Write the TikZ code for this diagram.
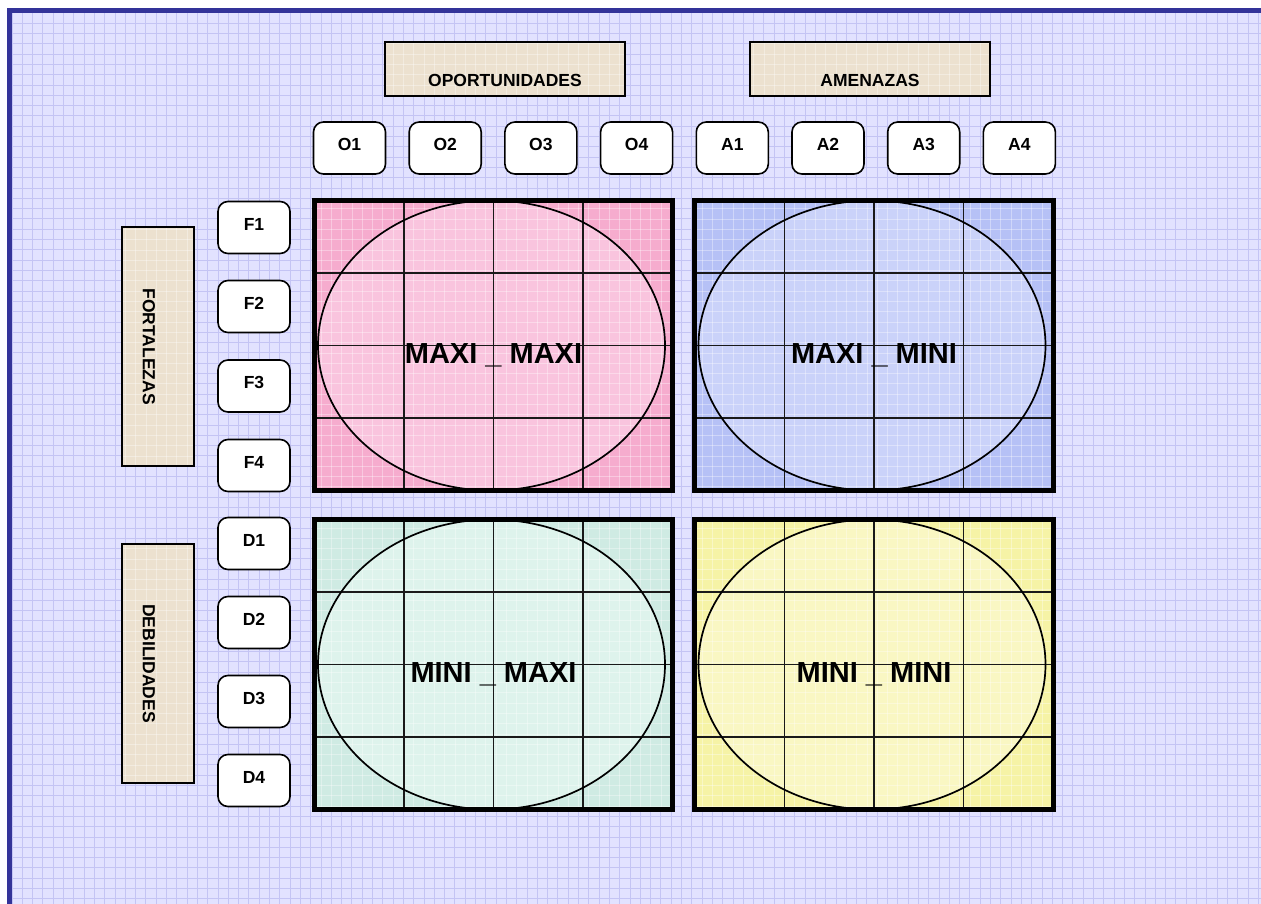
\documentclass[tikz,border=0pt]{standalone}
\usepackage{fontspec}
\usetikzlibrary{calc}
\setmainfont{Liberation Sans}
\definecolor{bgc}{HTML}{E2E2FF}
\definecolor{bggrid}{HTML}{C4C4F4}
\definecolor{bordc}{HTML}{333399}
\definecolor{beige}{HTML}{ECE1CF}
\definecolor{pinkO}{HTML}{F6ACCE}
\definecolor{pinkI}{HTML}{F9C4DE}
\definecolor{blueO}{HTML}{B6C1F6}
\definecolor{blueI}{HTML}{CAD2F9}
\definecolor{greenO}{HTML}{CFEBE3}
\definecolor{greenI}{HTML}{DEF3EC}
\definecolor{yellO}{HTML}{F6F3A6}
\definecolor{yellI}{HTML}{F9F7C3}
\tikzset{
  smallfont/.style={font=\fontsize{17.5}{20}\selectfont\bfseries},
  bigfont/.style={font=\fontsize{29}{32}\selectfont\bfseries},
  rbox/.style={draw=black, line width=1.6pt, fill=white, rounded corners=10pt,
    minimum width=72pt, minimum height=52pt, inner sep=0pt, smallfont,
    text height=13pt, text depth=8pt},
  hbox/.style={fill=beige, minimum width=240pt, minimum height=54pt, inner sep=0pt},
  vbox/.style={fill=beige, minimum width=72pt, minimum height=239pt, inner sep=0pt},
  quad/.style={minimum width=358pt, minimum height=290pt, inner sep=0pt},
  qborder/.style={draw=black, line width=5pt},
  qgrid/.style={draw=black!90, line width=1.5pt},
  ell/.style={draw=black, line width=1.7pt},
  texgrid/.style={draw=white, line width=0.8pt, opacity=0.35},
  boxedge/.style={draw=black, line width=2pt},
}
\newcommand{\texturegrid}[1]{%
  \begin{scope}
    \clip ($(#1.south west)+(1,-1)$) rectangle ($(#1.north east)+(-1,1)$);
    \foreach \gx in {12,22.3,...,1261}{\draw[texgrid] (\gx,13) -- (\gx,904);}
    \foreach \gy in {13,23.3,...,904}{\draw[texgrid] (12,\gy) -- (1261,\gy);}
  \end{scope}}
\begin{document}
\begin{tikzpicture}[x=1pt,y=-1pt]
\useasboundingbox (0,0) rectangle (1261,904);
% background
\fill[bgc] (7,8) rectangle (1261,904);
\foreach \gx in {12,22.3,...,1261}{\draw[bggrid, line width=1pt] (\gx,13) -- (\gx,904);}
\foreach \gy in {13,23.3,...,904}{\draw[bggrid, line width=1pt] (12,\gy) -- (1261,\gy);}
\fill[bordc] (7,8) rectangle (1261,13);
\fill[bordc] (7,8) rectangle (12,904);

% header boxes
\node[hbox] (opp) at (505,69) {};
\texturegrid{opp}
\draw[boxedge] (opp.south west) rectangle (opp.north east);
\node[smallfont] (oppT) at ($(opp.center)+(0,11)$) {OPORTUNIDADES};
\node[hbox] (ame) at (870,69) {};
\texturegrid{ame}
\draw[boxedge] (ame.south west) rectangle (ame.north east);
\node[smallfont] (ameT) at ($(ame.center)+(0,11)$) {AMENAZAS};

% side boxes
\node[vbox] (fort) at (158,346.5) {};
\texturegrid{fort}
\draw[boxedge] (fort.south west) rectangle (fort.north east);
\node[smallfont, rotate=-90] (fortT) at (149,346.5) {FORTALEZAS};
\node[vbox] (deb) at (158,663.5) {};
\texturegrid{deb}
\draw[boxedge] (deb.south west) rectangle (deb.north east);
\node[smallfont, rotate=-90] (debT) at (149,663.5) {DEBILIDADES};

% column boxes
\node[rbox] (o1) at (349.5,148) {O1};
\node[rbox] (o2) at (445.2,148) {O2};
\node[rbox] (o3) at (540.9,148) {O3};
\node[rbox] (o4) at (636.6,148) {O4};
\node[rbox] (a1) at (732.3,148) {A1};
\node[rbox] (a2) at (828.0,148) {A2};
\node[rbox] (a3) at (923.7,148) {A3};
\node[rbox] (a4) at (1019.4,148) {A4};

% row boxes
\node[rbox] (f1) at (254,227.5) {F1};
\node[rbox] (f2) at (254,306.5) {F2};
\node[rbox] (f3) at (254,386) {F3};
\node[rbox] (f4) at (254,465.5) {F4};
\node[rbox] (d1) at (254,543.5) {D1};
\node[rbox] (d2) at (254,622.5) {D2};
\node[rbox] (d3) at (254,701.5) {D3};
\node[rbox] (d4) at (254,780.5) {D4};

% quadrants
\foreach \n/\cx/\cy/\co/\ci/\txt in {
  qa/493.5/345.5/pinkO/pinkI/{MAXI \_ MAXI},
  qb/874/345.5/blueO/blueI/{MAXI \_ MINI},
  qc/493.5/664.5/greenO/greenI/{MINI \_ MAXI},
  qd/874/664.5/yellO/yellI/{MINI \_ MINI}}{
  \node[quad, fill=\co] (\n) at (\cx,\cy) {};
  \fill[\ci] ($(\n.center)+(-2,0)$) ellipse [x radius=173.5, y radius=145];
  \texturegrid{\n}
  \foreach \i in {1,2,3}{
    \draw[qgrid] ($(\n.north west)!\i/4!(\n.north east)$) -- ($(\n.south west)!\i/4!(\n.south east)$);
    \draw[qgrid] ($(\n.north west)!\i/4!(\n.south west)$) -- ($(\n.north east)!\i/4!(\n.south east)$);
  }
  \draw[ell] ($(\n.center)+(-2,0)$) ellipse [x radius=173.5, y radius=145];
  \draw[qborder] (\n.north west) rectangle (\n.south east);
  \node[bigfont] (\n t) at ($(\n.center)+(0,10)$) {\txt};
}
\end{tikzpicture}
\end{document}
